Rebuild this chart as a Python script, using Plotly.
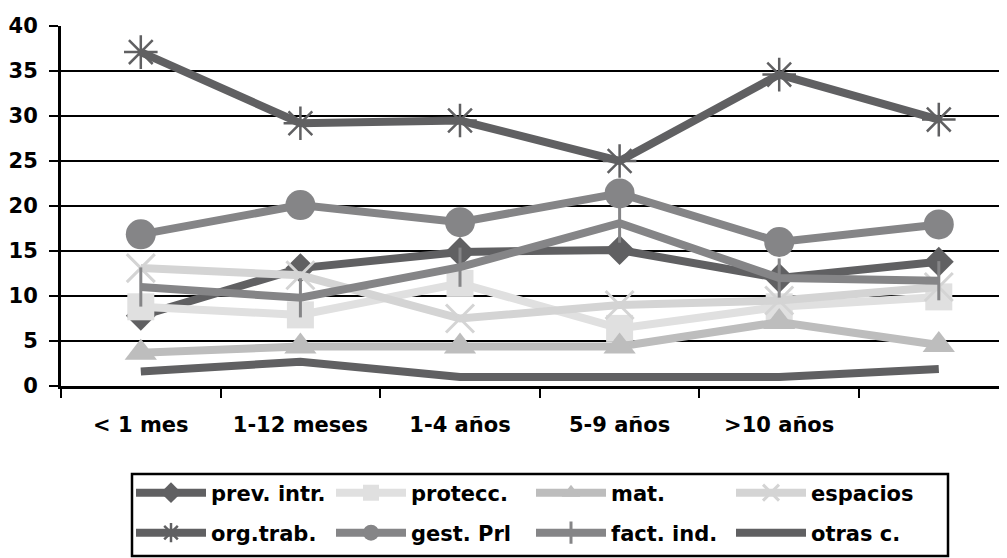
import plotly.graph_objects as go

categories = ["< 1 mes", "1-12 meses", "1-4 años", "5-9 años", ">10 años", ""]
x_idx = list(range(len(categories)))

prev_intr = [7.8, 13.1, 14.9, 15.1, 12.0, 13.8]
protecc = [8.8, 7.9, 11.4, 6.4, 8.8, 9.9]
mat = [3.7, 4.4, 4.4, 4.4, 7.1, 4.55]
espacios = [13.1, 12.3, 7.5, 9.0, 9.5, 11.0]
org_trab = [37.1, 29.2, 29.5, 25.0, 34.6, 29.6]
gest_prl = [16.85, 20.1, 18.2, 21.4, 16.0, 17.95]
fact_ind = [11.0, 9.8, 13.2, 18.1, 12.0, 11.7]
otras_c = [1.6, 2.7, 1.0, 0.9, 1.0, 1.9]

y_ticks = [0, 5, 10, 15, 20, 25, 30, 35, 40]

FONT = "DejaVu Sans"
OFF = 8                      # page body margin in the browser
W, H = 1007 - OFF, 558 - OFF
ML, MT = 61 - OFF, 26 - OFF
PLOT_BOTTOM = 386 - OFF
MB = H - PLOT_BOTTOM
PLOT_W = W - ML
PLOT_H = H - MT - MB

series = [
    ("prev. intr.", prev_intr, "#606062", "diamond", 23, 0, "legend"),
    ("protecc.", protecc, "#e0e0e0", "square", 27, 0, "legend"),
    ("mat.", mat, "#bdbdbd", "triangle-up", 28, 0, "legend"),
    ("espacios", espacios, "#d4d4d4", "x-thin-open", 28, 3, "legend"),
    ("org.trab.", org_trab, "#606062", "asterisk-open", 28, 2.5, "legend2"),
    ("gest. Prl", gest_prl, "#858587", "circle", 30, 0, "legend2"),
    ("fact. ind.", fact_ind, "#858587", "line-ns-open", 28, 3, "legend2"),
    ("otras c.", otras_c, "#606062", None, 0, 0, "legend2"),
]

fig = go.Figure()
for name, vals, color, sym, size, lw, lg in series:
    if sym is None:
        fig.add_trace(go.Scatter(
            x=x_idx, y=vals, name=name, mode="lines", legend=lg,
            line=dict(color=color, width=8),
        ))
    else:
        fig.add_trace(go.Scatter(
            x=x_idx, y=vals, name=name, mode="lines+markers", legend=lg,
            line=dict(color=color, width=8),
            marker=dict(symbol=sym, size=size, color=color,
                        line=dict(color=color, width=lw)),
        ))

legend_common = dict(
    orientation="h",
    xref="container", yref="container",
    x=(131 - OFF) / W, xanchor="left", yanchor="middle",
    borderwidth=0, bgcolor="rgba(0,0,0,0)",
    entrywidthmode="pixels", entrywidth=115,
    itemwidth=70,
    font=dict(family=FONT, size=21, color="black", weight="bold"),
    itemsizing="trace",
)

fig.update_layout(
    width=W, height=H,
    margin=dict(l=ML, r=0, t=MT, b=MB),
    paper_bgcolor="white", plot_bgcolor="white",
    font=dict(family=FONT, size=21, color="black", weight="bold"),
    showlegend=True,
    legend=dict(legend_common, y=1 - (493 - OFF) / H),
    legend2=dict(legend_common, y=1 - (533 - OFF) / H),
)

# legend frame
fig.add_shape(
    type="rect", xref="paper", yref="paper",
    x0=(132 - OFF - ML) / PLOT_W, x1=(948 - OFF - ML) / PLOT_W,
    y0=(PLOT_BOTTOM - (474 - OFF)) / PLOT_H, y1=(PLOT_BOTTOM - (556 - OFF)) / PLOT_H,
    line=dict(color="black", width=2.5), fillcolor="rgba(0,0,0,0)",
    layer="below",
)

fig.update_xaxes(
    range=[-0.5, -0.5 + PLOT_W / 159.6],
    automargin=False,
    tickmode="array", tickvals=x_idx[:5], ticktext=categories[:5],
    ticks="", showgrid=False, zeroline=False,
    showline=True, linecolor="black", linewidth=3,
    ticklabelstandoff=18,
    tickfont=dict(family=FONT, size=21, color="black", weight="bold"),
    minor=dict(tickmode="array", tickvals=[-0.5, 0.5, 1.5, 2.5, 3.5, 4.5, 5.5],
               ticks="outside", ticklen=9, tickwidth=2, tickcolor="black",
               showgrid=False),
)
fig.update_yaxes(
    range=[0, 40], tickmode="array", tickvals=y_ticks,
    automargin=False,
    showgrid=True, gridcolor="black", gridwidth=2,
    zeroline=False,
    showline=True, linecolor="black", linewidth=3,
    ticks="outside", ticklen=9, tickwidth=2, tickcolor="black",
    ticklabelstandoff=7,
    tickfont=dict(family=FONT, size=21, color="black", weight="bold"),
)

fig.write_html("out.html")
